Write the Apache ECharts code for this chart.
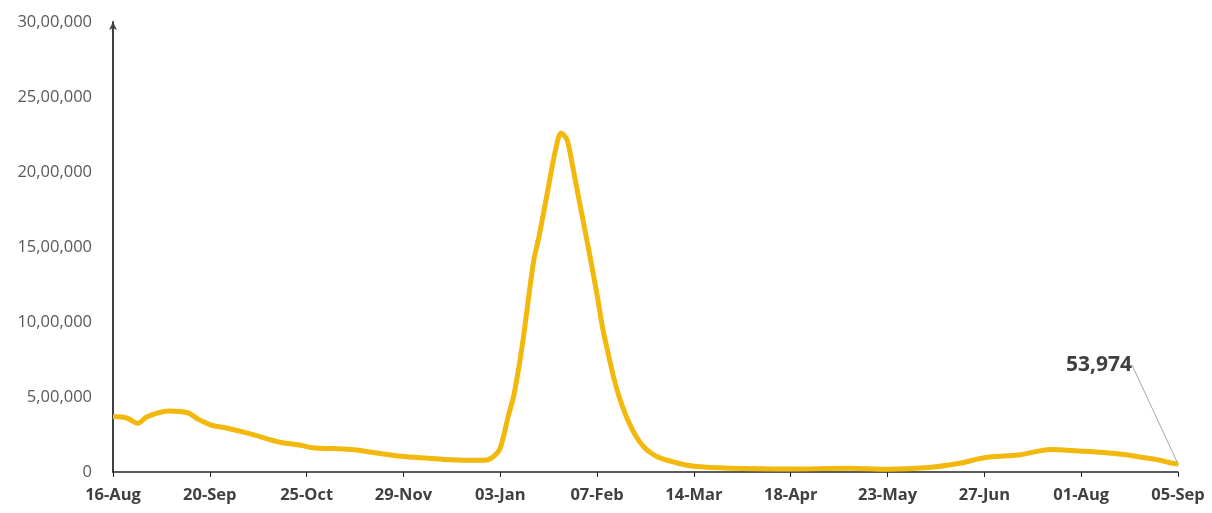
<!DOCTYPE html>
<html>
<head>
<meta charset="utf-8">
<script src="https://cdn.jsdelivr.net/npm/echarts@6/dist/echarts.min.js"></script>
<style>
  html, body { margin: 0; padding: 0; background: #fff; }
  #chart { width: 1212px; height: 513px; }
</style>
</head>
<body>
<div id="chart"></div>
<script>
// days since 16-Aug
var days = [0, 5, 9, 12, 16, 20, 27, 31, 36, 41, 51, 60, 68, 72, 86, 96, 104, 114, 122, 130, 135,
    138, 140, 143, 145, 148, 152, 154, 157, 160, 162, 164, 165, 168, 172, 175, 177, 179, 181, 183, 186,
    189, 192, 195, 198, 204, 210, 223, 245, 266, 280, 295, 306, 315, 328, 339, 349, 358, 366, 373, 378, 382, 385];
var cases = [370000, 360000, 325000, 365000, 393000, 407000, 395000, 350000, 310000, 293000, 247000,
    200000, 178000, 162000, 150000, 125000, 105000, 92000, 82000, 78000, 80000,
    110000, 160000, 380000, 520000, 850000, 1400000, 1570000, 1860000, 2150000, 2260000, 2220000,
    2150000, 1860000, 1480000, 1180000, 960000, 790000, 630000, 500000, 350000,
    240000, 165000, 120000, 92000, 60000, 38000, 25000, 20000, 25000, 18000, 30000, 58000, 95000, 115000,
    150000, 140000, 130000, 115000, 95000, 80000, 62000, 53974];

var xTickLabels = ['16-Aug', '20-Sep', '25-Oct', '29-Nov', '03-Jan', '07-Feb', '14-Mar',
    '18-Apr', '23-May', '27-Jun', '01-Aug', '05-Sep'];
var yTickLabels = ['0', '5,00,000', '10,00,000', '15,00,000', '20,00,000', '25,00,000', '30,00,000'];

var seriesData = days.map(function (d, i) { return [d, cases[i]]; });
var lastIdx = seriesData.length - 1;
seriesData[lastIdx] = {
    value: seriesData[lastIdx],
    symbolSize: 2,
    label: {
        show: true,
        formatter: '53,974',
        fontSize: 21,
        fontWeight: 'bold',
        color: '#404040',
        fontFamily: 'Open Sans',
        align: 'left',
        verticalAlign: 'middle'
    },
    labelLine: {
        show: true,
        lineStyle: { color: '#a6a6a6', width: 1 }
    }
};

var chart = echarts.init(document.getElementById('chart'));
chart.setOption({
    animation: false,
    grid: { left: 113, right: 34, top: 22, bottom: 41 },
    xAxis: {
        type: 'value',
        min: 0,
        max: 385,
        interval: 35,
        splitLine: { show: false },
        axisLine: { lineStyle: { color: '#262626', width: 1.5 } },
        axisTick: { show: true, length: 5, lineStyle: { color: '#262626' } },
        axisLabel: {
            margin: 15,
            color: '#404040',
            fontWeight: 'bold',
            fontSize: 16.5,
            fontFamily: 'Open Sans',
            formatter: function (v) { return xTickLabels[Math.round(v / 35)]; }
        }
    },
    yAxis: {
        type: 'value',
        min: 0,
        max: 3000000,
        interval: 500000,
        splitLine: { show: false },
        axisLine: {
            show: true,
            symbol: ['none', 'arrow'],
            symbolSize: [6, 8],
            lineStyle: { color: '#404040', width: 2 }
        },
        axisTick: { show: false },
        axisLabel: {
            margin: 21,
            color: '#595959',
            fontSize: 16.5,
            fontFamily: 'Open Sans',
            formatter: function (v) { return yTickLabels[Math.round(v / 500000)]; }
        }
    },
    series: [{
        type: 'line',
        data: seriesData,
        smooth: 0.3,
        showSymbol: true,
        symbol: 'circle',
        symbolSize: 0,
        lineStyle: { color: '#F2B80C', width: 5 },
        itemStyle: { color: '#F2B80C' },
        labelLayout: { x: 1066, y: 365, align: 'left', verticalAlign: 'middle' }
    }]
});
</script>
</body>
</html>
